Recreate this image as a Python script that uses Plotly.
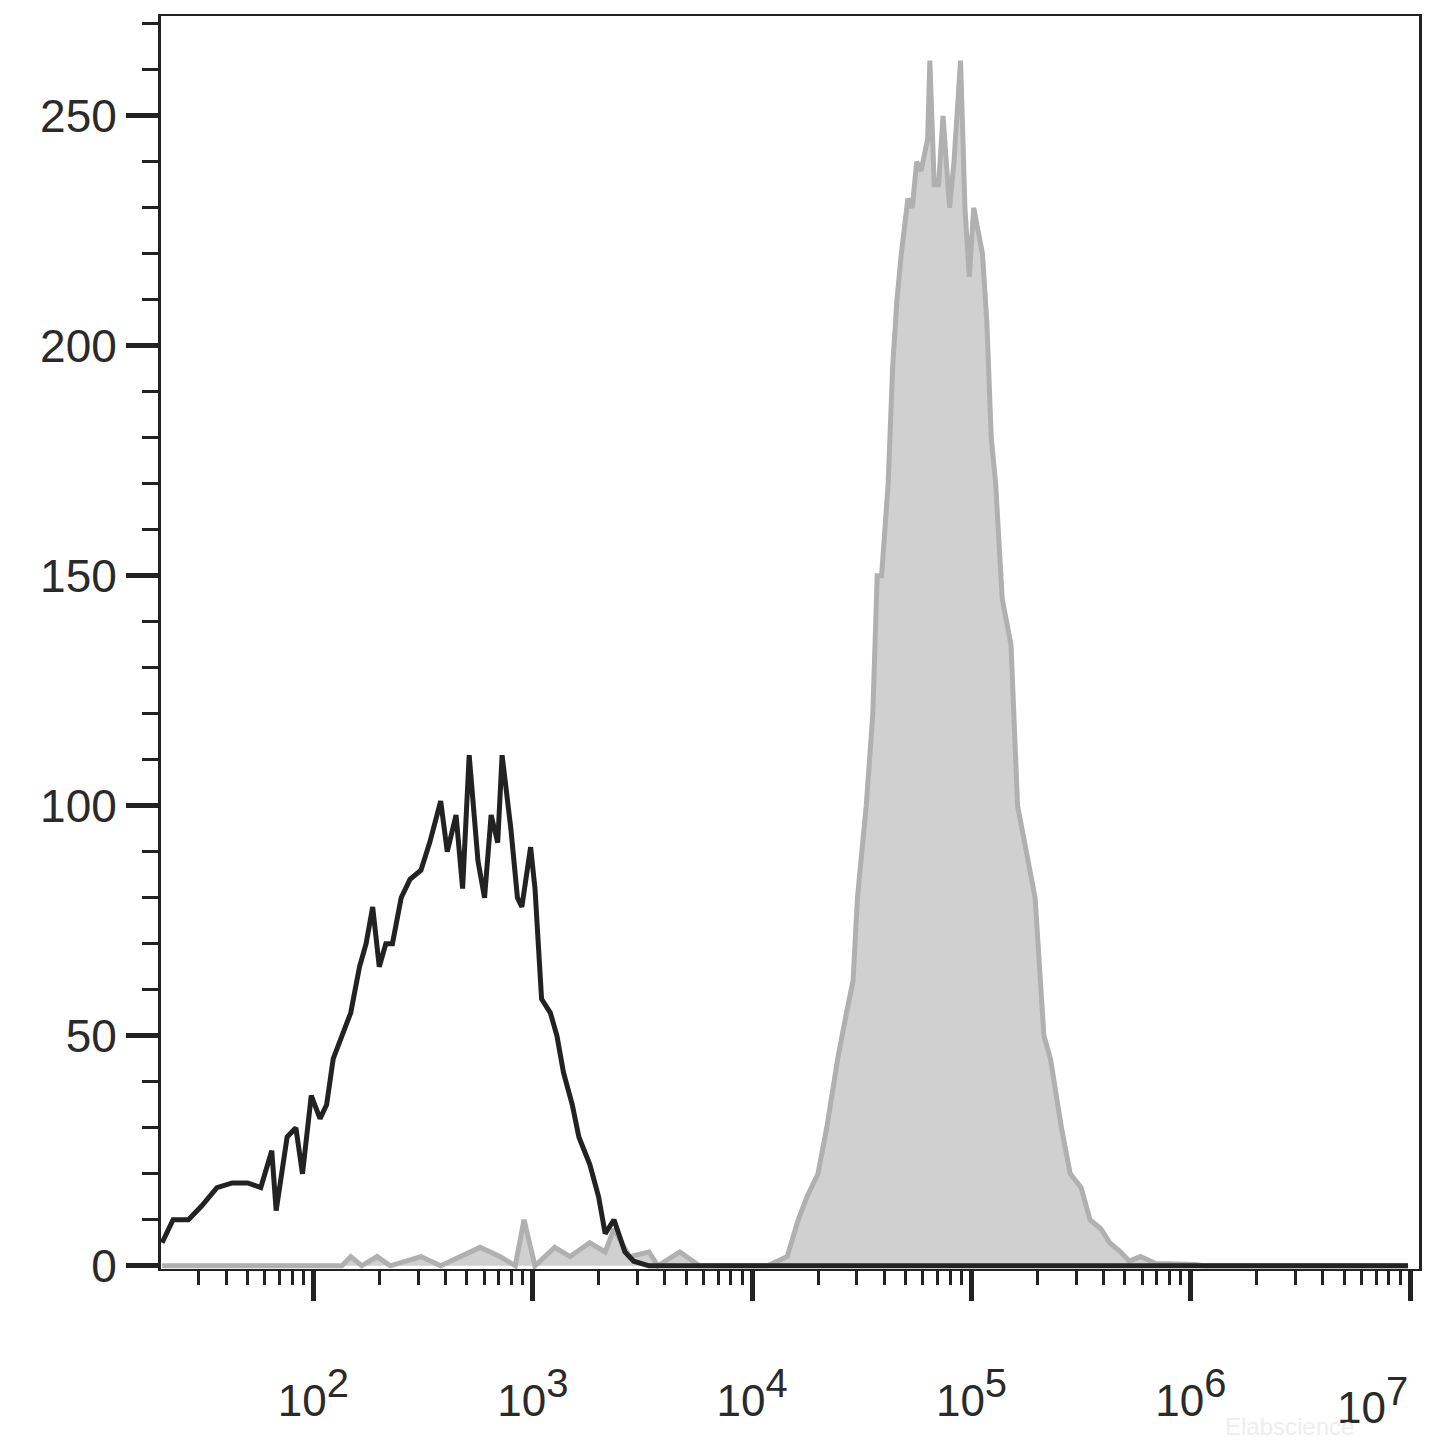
import plotly.graph_objects as go

# log10 of fluorescence intensity and event counts
ctrl_log = [1.31, 1.36, 1.43, 1.49, 1.56, 1.63, 1.70, 1.76, 1.81, 1.83, 1.88, 1.92, 1.95, 1.99,
            2.03, 2.06, 2.09, 2.13, 2.17, 2.21, 2.24, 2.27, 2.30, 2.33, 2.36, 2.40, 2.44, 2.49,
            2.53, 2.58, 2.61, 2.65, 2.68, 2.71, 2.75, 2.78, 2.81, 2.84, 2.86, 2.90, 2.93, 2.95,
            2.99, 3.01, 3.04, 3.08, 3.11, 3.14, 3.18, 3.21, 3.26, 3.30, 3.33, 3.37, 3.42, 3.46,
            3.53, 6.99]
ctrl_cnt = [5, 10, 10, 13, 17, 18, 18, 17, 25, 12, 28, 30, 20, 37,
            32, 35, 45, 50, 55, 65, 70, 78, 65, 70, 70, 80, 84, 86,
            92, 101, 90, 98, 82, 111, 88, 80, 98, 92, 111, 95, 80, 78,
            91, 82, 58, 55, 50, 42, 35, 28, 22, 15, 7, 10, 3, 1,
            0, 0]

stain_log = [1.31, 2.13, 2.17, 2.22, 2.29, 2.35, 2.49, 2.58, 2.76, 2.85, 2.92, 2.96, 3.01, 3.10,
             3.17, 3.26, 3.33, 3.37, 3.44, 3.53, 3.57, 3.67, 3.76, 4.07, 4.16, 4.21, 4.25, 4.30,
             4.34, 4.39, 4.43, 4.46, 4.48, 4.50, 4.52, 4.55, 4.57, 4.59, 4.62, 4.64, 4.66, 4.68,
             4.71, 4.73, 4.75, 4.77, 4.80, 4.81, 4.83, 4.85, 4.87, 4.90, 4.92, 4.95, 4.97, 4.99,
             5.01, 5.05, 5.07, 5.09, 5.11, 5.14, 5.18, 5.21, 5.25, 5.29, 5.33, 5.36, 5.41, 5.45,
             5.50, 5.54, 5.59, 5.63, 5.68, 5.72, 5.77, 5.84, 6.02, 6.06, 6.99]
stain_cnt = [0, 0, 2, 0, 2, 0, 2, 0, 4, 2, 0, 10, 0, 4,
             2, 5, 3, 8, 2, 3, 0, 3, 0, 0, 2, 10, 15, 20,
             30, 45, 55, 62, 80, 90, 100, 120, 150, 150, 170, 195, 210, 220,
             232, 230, 240, 238, 245, 262, 235, 235, 250, 230, 240, 262, 230, 215,
             230, 220, 205, 180, 170, 145, 135, 100, 90, 80, 50, 45, 30, 20,
             17, 10, 8, 5, 3, 1, 2, 0.5, 0.3, 0, 0]

x_ticks = [2, 3, 4, 5, 6, 7]
y_ticks = [0, 50, 100, 150, 200, 250]
minor_x = [m * 10 ** d for d in range(1, 7) for m in range(2, 10)]


def sup_label(v):
    return f"10<sup><span style='font-size:40px'>{v}</span></sup>"


fig = go.Figure()
fig.add_trace(go.Scatter(x=[10 ** v for v in stain_log], y=stain_cnt, mode="lines",
                         fill="tozeroy", fillcolor="#d0d0d0",
                         line=dict(color="#b0b0b0", width=5)))
fig.add_trace(go.Scatter(x=[10 ** v for v in ctrl_log], y=ctrl_cnt, mode="lines",
                         line=dict(color="#222222", width=5)))

fig.update_layout(
    width=1445, height=1443, showlegend=False,
    plot_bgcolor="white", paper_bgcolor="white",
    margin=dict(l=153, r=34, t=8, b=182),
    font=dict(family="Liberation Sans, Arial", color="#2a2a2a"),
    xaxis=dict(type="log", range=[1.305, 7.04], showgrid=False, zeroline=False,
               automargin=False,
               showline=True, linecolor="#222222", linewidth=2, mirror=True,
               ticks="outside", ticklen=30, tickwidth=5, tickcolor="#222222",
               tickvals=[10 ** v for v in x_ticks],
               ticktext=[sup_label(v) if v != 7 else "" for v in x_ticks],
               tickfont=dict(size=44), ticklabelstandoff=62,
               minor=dict(ticks="outside", ticklen=14, tickwidth=3, tickcolor="#222222",
                          tickvals=minor_x, showgrid=False)),
    yaxis=dict(range=[-0.7, 271.7], showgrid=False, zeroline=False,
               automargin=False,
               showline=True, linecolor="#222222", linewidth=3, mirror=True,
               ticks="outside", ticklen=32, tickwidth=5, tickcolor="#222222",
               tickvals=y_ticks, tickfont=dict(size=46),
               minor=dict(ticks="outside", ticklen=16, tickwidth=3, tickcolor="#222222",
                          dtick=10, showgrid=False)),
)
# last decade label sits left of its tick, as in the original
fig.add_annotation(text=sup_label(7), x=7, xref="x", y=-0.105, yref="paper",
                   xanchor="right", yanchor="middle", showarrow=False,
                   font=dict(size=44, color="#2a2a2a"))
fig.add_annotation(text="Elabscience", xref="paper", yref="paper", x=0.95, y=-0.138,
                   showarrow=False, font=dict(size=24, color="#eeeeee"))

fig.write_html("out.html")
